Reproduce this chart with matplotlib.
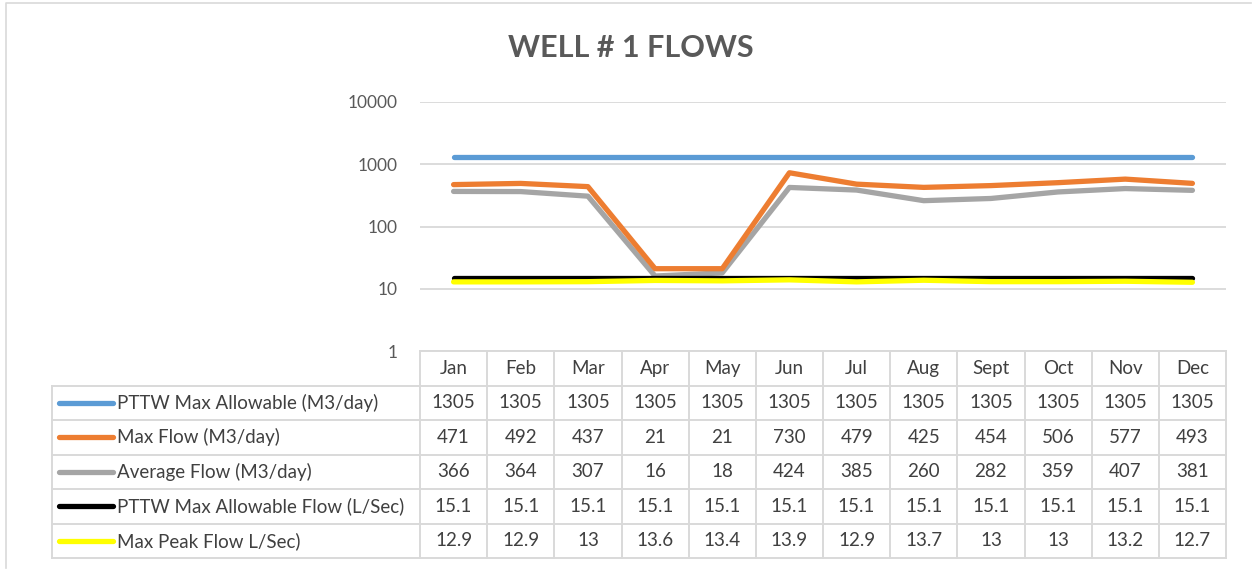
import numpy as np
import matplotlib
matplotlib.use("Agg")
import matplotlib.pyplot as plt

plt.rcParams['font.family'] = ['Lato', 'DejaVu Sans']

months = ['Jan', 'Feb', 'Mar', 'Apr', 'May', 'Jun', 'Jul', 'Aug', 'Sept', 'Oct', 'Nov', 'Dec']
series_names = ['PTTW Max Allowable (M3/day)', 'Max Flow (M3/day)', 'Average Flow (M3/day)',
                'PTTW Max Allowable Flow (L/Sec)', 'Max Peak Flow L/Sec)']
pttw_m3 = [1305] * 12
max_flow = [471, 492, 437, 21, 21, 730, 479, 425, 454, 506, 577, 493]
avg_flow = [366, 364, 307, 16, 18, 424, 385, 260, 282, 359, 407, 381]
pttw_ls = [15.1] * 12
peak_ls = [12.9, 12.9, 13, 13.6, 13.4, 13.9, 12.9, 13.7, 13, 13, 13.2, 12.7]
all_series = [pttw_m3, max_flow, avg_flow, pttw_ls, peak_ls]

colors = ['#5B9BD5', '#ED7D31', '#A5A5A5', '#000000', '#FFFF00']
zorders = [3, 5, 4, 6, 7]
yticks = [1, 10, 100, 1000, 10000]

W, H = 1252, 569
fig = plt.figure(figsize=(W / 100, H / 100), dpi=100)

def px_rect(x0, y0, x1, y1):
    return [x0 / W, 1 - y1 / H, (x1 - x0) / W, (y1 - y0) / H]

# outer chart frame
frame = fig.add_axes([0, 0, 1, 1])
frame.set_xlim(0, W)
frame.set_ylim(H, 0)
frame.axis('off')
frame.plot([6, 6, 1251], [568, 3, 3], color='#D9D9D9', lw=1.2)

grey_txt = '#595959'
cell_txt = '#404040'
grid_c = '#D9D9D9'

frame.text(631, 48, 'WELL # 1 FLOWS', ha='center', va='center', fontsize=22,
           fontweight='bold', color=grey_txt)

# main plot
x = np.arange(len(months))
ax = fig.add_axes(px_rect(420, 102, 1226, 351))
ax.set_yscale('log')
ax.set_ylim(1, 10000)
ax.set_xlim(-0.5, len(months) - 0.5)
for s, c, z in zip(all_series, colors, zorders):
    ax.plot(x, s, color=c, lw=3.8, solid_capstyle='round', solid_joinstyle='round', zorder=z)
ax.set_yticks(yticks)
ax.set_yticklabels([str(t) for t in yticks])
ax.minorticks_off()
ax.tick_params(axis='y', length=0, pad=16, labelsize=12.5, labelcolor=grey_txt)
ax.set_xticks([])
ax.grid(axis='y', color=grid_c, lw=1.3)
for sp in ax.spines.values():
    sp.set_visible(False)

# data table below
col_px = (1226 - 420) / 12
leg_w = (420 - 52) / col_px
tab = fig.add_axes(px_rect(52, 351, 1226, 558))
tab.set_xlim(-0.5 - leg_w, len(months) - 0.5)
tab.set_ylim(len(series_names) + 1, 0)
tab.axis('off')
left = -0.5 - leg_w
right = len(months) - 0.5
nrow = len(series_names) + 1
lw_t = 1.4
tab.plot([-0.5, right], [0, 0], color=grid_c, lw=lw_t, clip_on=False)
for r in range(1, nrow + 1):
    tab.plot([left, right], [r, r], color=grid_c, lw=lw_t, clip_on=False)
tab.plot([left, left], [1, nrow], color=grid_c, lw=lw_t, clip_on=False)
for b in np.arange(len(months) + 1) - 0.5:
    tab.plot([b, b], [0, nrow], color=grid_c, lw=lw_t, clip_on=False)

fs = 13.5
for i, m in enumerate(months):
    tab.text(i, 0.5, m, ha='center', va='center', fontsize=fs, color=cell_txt)

key_len = (113 - 59) / col_px
key_x0 = left + (59 - 52) / col_px
for r, (name, s, c) in enumerate(zip(series_names, all_series, colors), start=1):
    tab.plot([key_x0, key_x0 + key_len], [r + 0.5, r + 0.5], color=c, lw=3.8,
             solid_capstyle='round')
    tab.text(key_x0 + key_len + 0.06, r + 0.5, name, ha='left', va='center',
             fontsize=fs, color=cell_txt)
    for i, v in enumerate(s):
        tab.text(i, r + 0.5, f'{v:g}', ha='center', va='center', fontsize=fs, color=cell_txt)

fig.savefig('out.png', dpi=100)
